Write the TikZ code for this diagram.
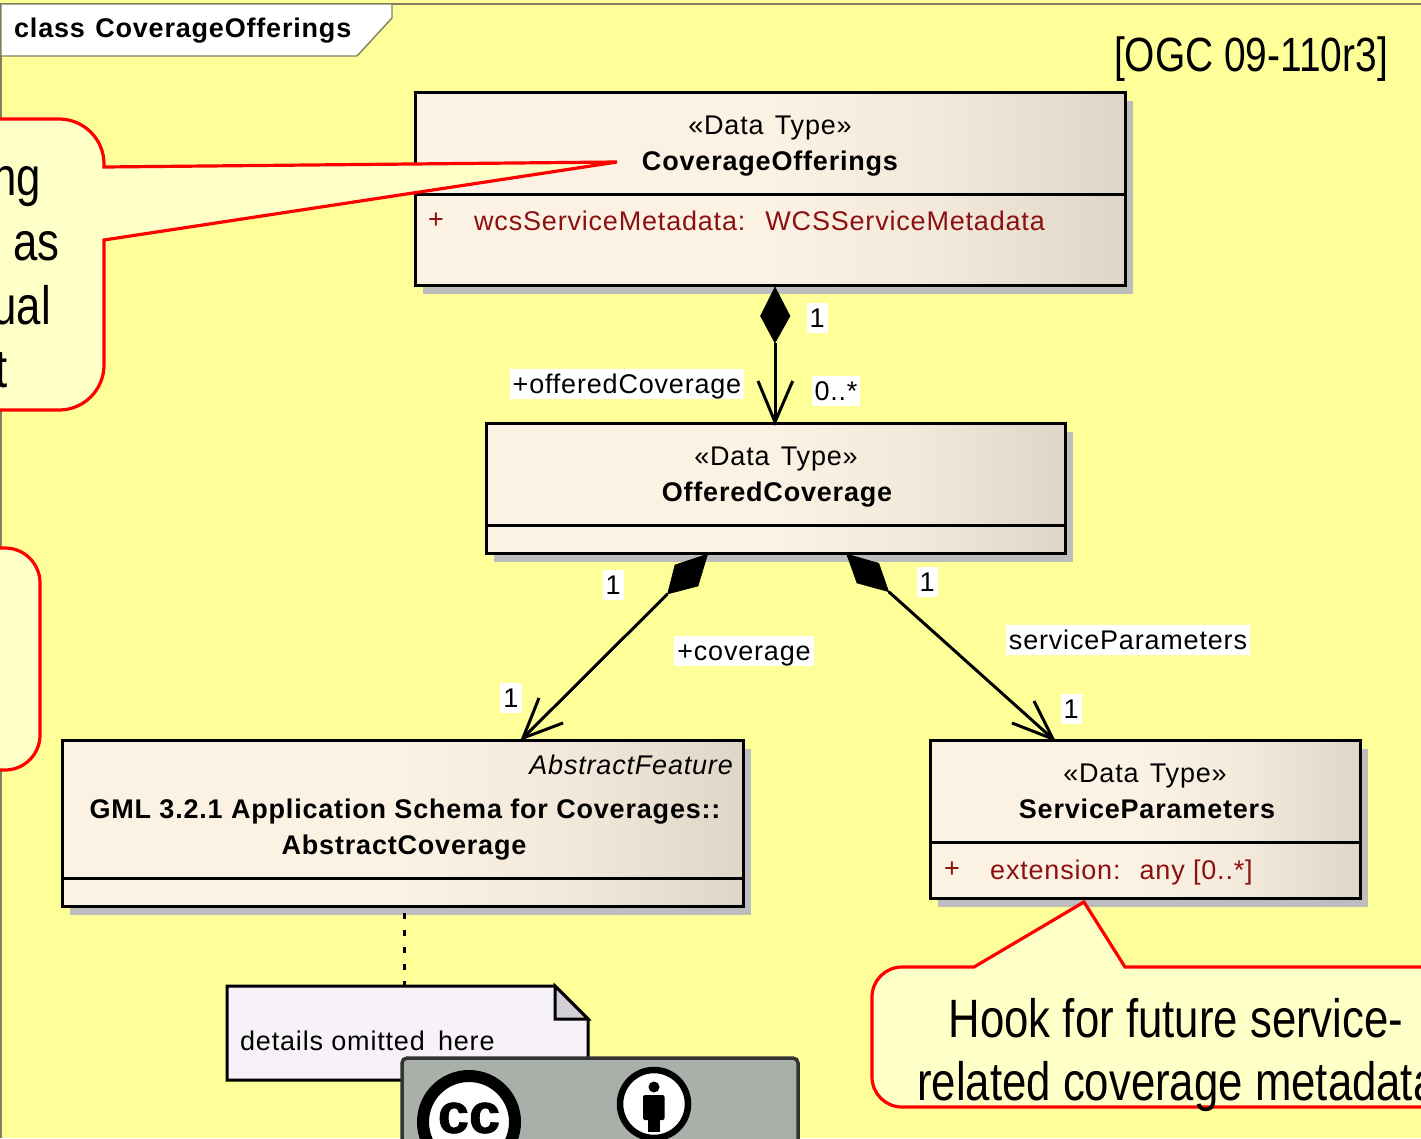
\documentclass[tikz,border=0pt]{standalone}
\usepackage{fontspec}
\setmainfont[LetterSpace=3]{Liberation Sans}
\newfontfamily\narrowfont[FakeStretch=0.81]{Liberation Sans}
\newfontfamily\ccfont[FakeBold=1.5]{Liberation Sans}
\usetikzlibrary{shadows,calc}
\definecolor{bgyellow}{HTML}{FFFF99}
\definecolor{calloutfill}{HTML}{FFFFC8}
\definecolor{frameline}{HTML}{808060}
\definecolor{shadowgray}{HTML}{BDBDBD}
\definecolor{attrred}{HTML}{8B1010}
\definecolor{notefill}{HTML}{F6F2F7}
\definecolor{foldfill}{HTML}{D3CFD6}
\definecolor{ccgray}{HTML}{A9B0A9}
\definecolor{gradA}{HTML}{FBF2E4}
\definecolor{gradB}{HTML}{F3E9DB}
\definecolor{gradC}{HTML}{E0D6C8}
\pgfdeclarehorizontalshading{boxgrad}{100bp}{
  color(0bp)=(gradA);
  color(25bp)=(gradA);
  color(50bp)=(gradA);
  color(62bp)=(gradB);
  color(75bp)=(gradC);
  color(100bp)=(gradC)}
\tikzset{
  umlbox/.style={rectangle,draw=black,line width=3pt,shading=boxgrad,inner sep=0pt,outer sep=0pt,anchor=north west,
    drop shadow={shadow xshift=8pt,shadow yshift=-9pt,fill=shadowgray,opacity=1}},
  sepline/.style={draw=black,line width=3pt},
  txt/.style={font=\fontsize{27}{30}\selectfont,inner sep=0pt,text=black},
  btxt/.style={font=\fontsize{27}{30}\selectfont\bfseries,inner sep=0pt,text=black},
  attr/.style={font=\fontsize{27}{30}\selectfont,inner sep=0pt,text=attrred,anchor=west},
  lbl/.style={font=\fontsize{27}{30}\selectfont,inner xsep=3pt,inner ysep=2pt,text height=22pt,text depth=4pt,fill=white,text=black},
  conn/.style={draw=black,line width=3pt},
  barb/.style={draw=black,line width=3pt,line join=miter},
  solidtip/.style={fill=black,draw=black,line width=0.5pt},
  callout/.style={draw=red,line width=3.2pt,fill=calloutfill,line join=miter},
  bigtxt/.style={font=\fontsize{54}{60}\selectfont\narrowfont,inner sep=0pt,text=black}
}
\begin{document}
\begin{tikzpicture}[x=1pt,y=-1pt]
\useasboundingbox (0,0) rectangle (1421,1138);
\clip (0,0) rectangle (1421,1138);
\fill[bgyellow] (0,0) rectangle (1421,1138);
% frame
\draw[frameline,line width=1.6pt] (1421,4) -- (1,4) -- (1,1138);
\filldraw[fill=white,draw=frameline,line width=1.4pt] (1,4) -- (392,4) -- (392,18) -- (357,56) -- (1,56) -- cycle;
\node[btxt,anchor=west] (tabtxt) at (14,31) {class\hspace{2pt} CoverageOfferings};
\node[font=\fontsize{48}{56}\selectfont\narrowfont,inner sep=0pt] (ref) at (1251,59) {[OGC 09-110r3]};

% boxes
\node[umlbox,minimum width=710pt,minimum height=193pt] (co) at (415,92) {};
\draw[sepline] (415,194) -- (1125,194);
\node[txt] (cos) at (770,128) {«Data\hspace{3pt} Type»};
\node[btxt] (con) at (770,164) {CoverageOfferings};
\node[attr] (coplus) at (428,221) {+};
\node[attr] (coattr) at (474,221) {wcsServiceMetadata:\hspace{9pt} WCSServiceMetadata};

\node[umlbox,minimum width=579pt,minimum height=130pt] (oc) at (486,423) {};
\draw[sepline] (486,525) -- (1065,525);
\node[txt] (ocs) at (776,459) {«Data\hspace{3pt} Type»};
\node[btxt] (ocn) at (777,495) {OfferedCoverage};

\node[umlbox,minimum width=681pt,minimum height=166pt] (ac) at (62,740) {};
\draw[sepline] (62,878) -- (743,878);
\node[txt,anchor=east] (acs) at (733,765) {\itshape AbstractFeature};
\node[btxt] (acn1) at (405,812) {GML 3.2.1 Application Schema for Coverages::};
\node[btxt] (acn2) at (404,848) {AbstractCoverage};

\node[umlbox,minimum width=430pt,minimum height=158pt] (sp) at (930,740) {};
\draw[sepline] (930,842) -- (1360,842);
\node[txt] (sps) at (1145,776) {«Data\hspace{3pt} Type»};
\node[btxt] (spn) at (1147,809) {ServiceParameters};
\node[attr] (spplus) at (944,870) {+};
\node[attr] (spattr) at (990,873) {extension:\hspace{8pt} any [0..*]};

% note
\coordinate (notetop) at (404,986);
\coordinate (acbot) at (404,913);
\filldraw[fill=notefill,draw=black,line width=3pt,line join=miter] (227,986) -- (555,986) -- (588,1019) -- (588,1080) -- (227,1080) -- cycle;
\filldraw[fill=foldfill,draw=black,line width=3pt,line join=miter] (555,986) -- (588,1019) -- (555,1019) -- cycle;
\node[txt,anchor=west] (notetxt) at (240,1041) {details omitted\hspace{5pt} here};
\draw[black,line width=3pt,dash pattern=on 6pt off 11pt] (acbot) -- (notetop);

% connectors
\coordinate (d1t) at (775,287); \coordinate (d1l) at (760.5,316); \coordinate (d1r) at (790,316); \coordinate (d1b) at (775,343);
\coordinate (a1) at (775,422);
\filldraw[solidtip] (d1t) -- (d1l) -- (d1b) -- (d1r) -- cycle;
\draw[conn] (d1b) -- (a1);
\draw[barb] (758,381) -- (a1) -- (792.7,381);

\coordinate (d2t) at (707.7,554); \coordinate (d2r) at (698,586); \coordinate (d2b) at (667.5,594); \coordinate (d2l) at (675,565);
\coordinate (a2) at (523,738);
\filldraw[solidtip] (d2t) -- (d2r) -- (d2b) -- (d2l) -- cycle;
\draw[conn] (d2b) -- (a2);
\draw[barb] (539,698) -- (a2) -- (563,723);

\coordinate (d3t) at (846.6,554); \coordinate (d3r) at (878.8,563.3); \coordinate (d3b) at (888.7,591.7); \coordinate (d3l) at (857,583);
\coordinate (a3) at (1053,739);
\filldraw[solidtip] (d3t) -- (d3r) -- (d3b) -- (d3l) -- cycle;
\draw[conn] (d3b) -- (a3);
\draw[barb] (1034,701) -- (a3) -- (1012,723);

% labels
\node[lbl] (l1) at (817,318) {1};
\node[lbl] (l2) at (627,384) {+offeredCoverage};
\node[lbl] (l3) at (836,391) {0..*};
\node[lbl] (l4) at (613,585) {1};
\node[lbl] (l5) at (744,651) {+coverage};
\node[lbl] (l6) at (511,698) {1};
\node[lbl] (l7) at (927,582) {1};
\node[lbl] (l8) at (1128,640) {serviceParameters};
\node[lbl] (l9) at (1071,709) {1};

% callouts
\draw[callout] (-60,119) -- (59,119) arc[start angle=-90,end angle=0,radius=45] -- (104,167) -- (617,162) -- (104,240) -- (104,365) arc[start angle=0,end angle=90,radius=45] -- (-60,410) -- cycle;
\node[bigtxt,anchor=east] (c1a) at (41,187) {ng};
\node[bigtxt,anchor=east] (c1b) at (60,246) {as};
\node[bigtxt,anchor=east] (c1c) at (51,305) {ual};
\node[bigtxt,anchor=east] (c1d) at (8,370) {t};

\draw[callout] (-60,548) -- (5,548) arc[start angle=-90,end angle=0,radius=35] -- (40,735) arc[start angle=0,end angle=90,radius=35] -- (-60,770) -- cycle;

\draw[callout] (1500,967) -- (1125,967) -- (1084,902) -- (974,967) -- (902,967) arc[start angle=-90,end angle=-180,radius=30] -- (872,1077) arc[start angle=180,end angle=90,radius=30] -- (1500,1107) -- cycle;
\node[bigtxt] (c3a) at (1176,1018) {Hook for future service-};
\node[bigtxt,anchor=west] (c3b) at (917,1087) {related coverage metadata};

% cc badge
\filldraw[fill=ccgray,draw=black!80,line width=3.5pt,rounded corners=5pt] (402,1200) -- (402,1058) -- (798,1058) -- (798,1200) -- cycle;
\filldraw[fill=white,draw=black,line width=12pt] (469,1122) circle[radius=46];
\node[font=\fontsize{56}{60}\selectfont\ccfont\bfseries,inner sep=0pt] (cc) at (469,1118) {cc};
\filldraw[fill=white,draw=black,line width=6.5pt] (654,1104) circle[radius=34];
\fill[black] (654,1087) circle[radius=5.5];
\fill[black,rounded corners=2pt] (643,1095) rectangle (664.5,1120);
\fill[black] (647.5,1118) rectangle (660,1132);
\end{tikzpicture}
\end{document}
